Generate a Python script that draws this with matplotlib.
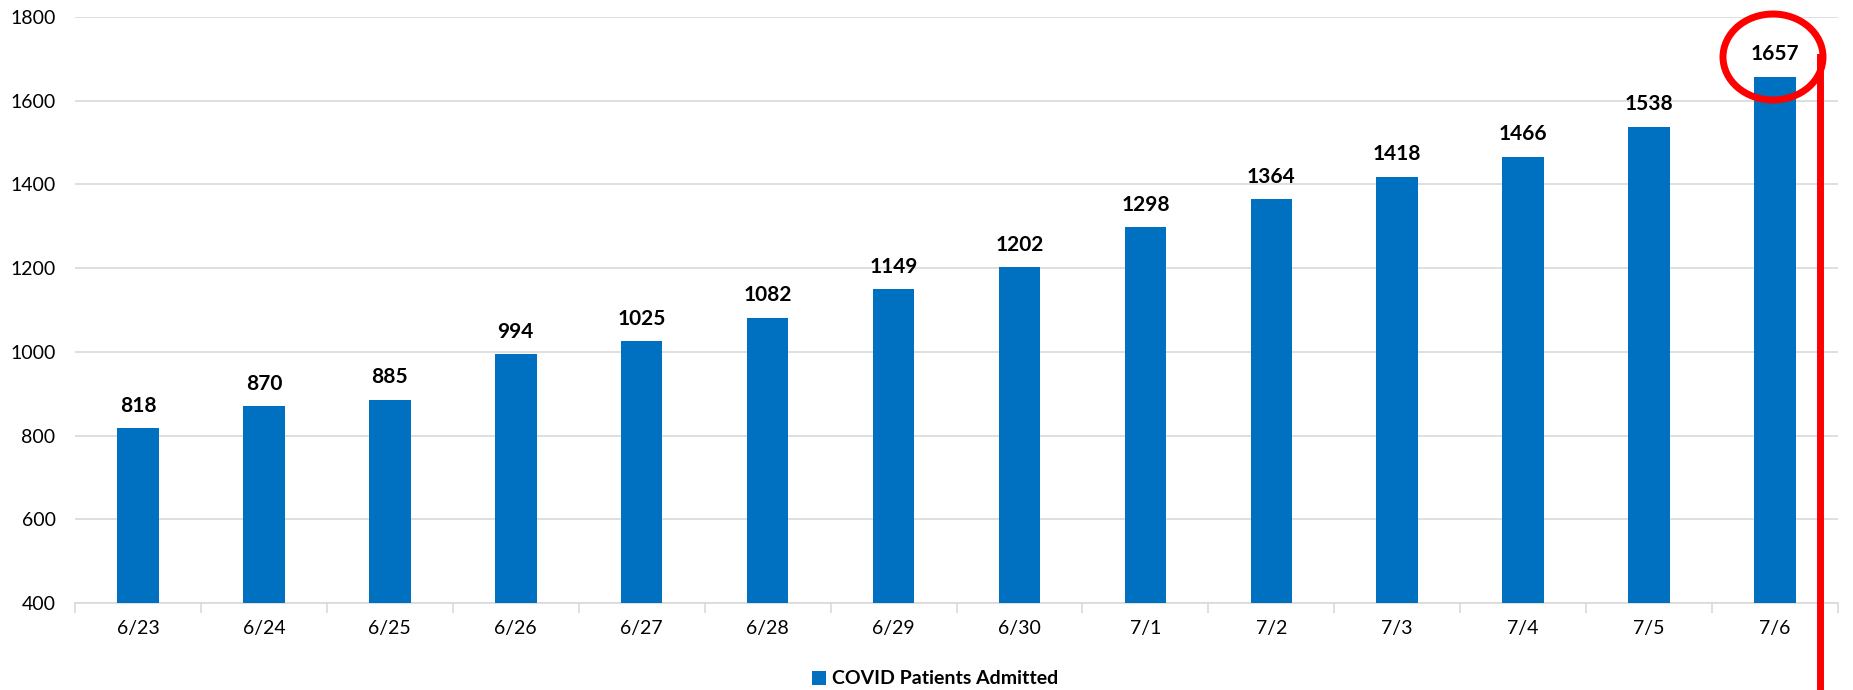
import matplotlib
matplotlib.use("Agg")
import matplotlib.pyplot as plt
from matplotlib.patches import Ellipse
from matplotlib.lines import Line2D

dates = ["6/23", "6/24", "6/25", "6/26", "6/27", "6/28", "6/29", "6/30",
         "7/1", "7/2", "7/3", "7/4", "7/5", "7/6"]
admitted = [818, 870, 885, 994, 1025, 1082, 1149, 1202, 1298, 1364, 1418, 1466, 1538, 1657]
series_name = "COVID Patients Admitted"
yticks = [400, 600, 800, 1000, 1200, 1400, 1600, 1800]

plt.rcParams['font.family'] = ['Lato', 'DejaVu Sans']

W, H = 1853, 690
fig = plt.figure(figsize=(W / 100, H / 100), dpi=100)
ax = fig.add_axes([75 / W, 1 - 603 / H, (1838 - 75) / W, (603 - 17) / H])

x = list(range(len(dates)))
bars = ax.bar(x, admitted, width=0.33, color="#0070C0", zorder=3, label=series_name)
ax.set_ylim(400, 1800)
ax.set_xlim(-0.5, len(dates) - 0.5)
ax.set_yticks(yticks)
ax.set_yticklabels([str(v) for v in yticks], fontsize=14, color="#000000")
ax.set_xticks(x)
ax.set_xticklabels(dates, fontsize=14, color="#000000")
ax.tick_params(axis='x', length=0, pad=12)
ax.tick_params(axis='y', length=0, pad=14)
ax.set_xticks([i - 0.5 for i in range(len(dates) + 1)], minor=True)
ax.tick_params(axis='x', which='minor', length=7, color="#D9D9D9", width=1.2)
ax.grid(axis='y', color="#D9D9D9", linewidth=1.2, zorder=0)
for s in ["top", "right", "left"]:
    ax.spines[s].set_visible(False)
ax.spines["bottom"].set_color("#D9D9D9")
ax.spines["bottom"].set_linewidth(1.2)

for xi, v in zip(x, admitted):
    ax.annotate(str(v), (xi, v), xytext=(0, 9), textcoords="offset points",
                ha="center", va="bottom", fontsize=15, fontweight="bold", color="#000000")

leg = fig.legend(handles=[bars], labels=[series_name], loc="center",
                 bbox_to_anchor=(935 / W, 1 - 679 / H), frameon=False,
                 prop={'size': 14, 'weight': 'bold'}, handlelength=0.7, handleheight=0.7,
                 handletextpad=0.3)

# red annotation: circle and vertical line
cx, cy = 1773, 57
ell = Ellipse((cx / W, 1 - cy / H), 100 / W, 86 / H, transform=fig.transFigure,
              fill=False, edgecolor="#FF0000", linewidth=5, zorder=10)
fig.add_artist(ell)
fig.add_artist(Line2D([1820 / W, 1820 / W], [1 - cy / H, 0], transform=fig.transFigure,
                      color="#FF0000", linewidth=5, zorder=10))

fig.savefig("out.png", dpi=100)
